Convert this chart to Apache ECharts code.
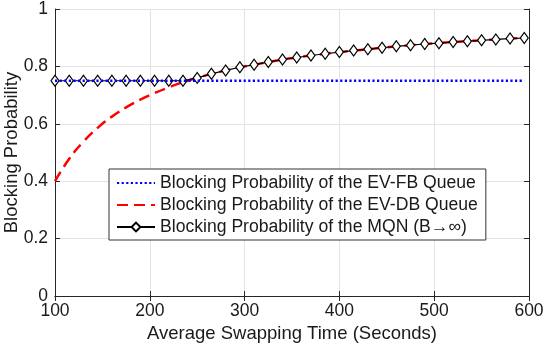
<!DOCTYPE html>
<html>
<head>
<meta charset="utf-8">
<title>Blocking Probability vs Average Swapping Time</title>
<script src="https://cdn.jsdelivr.net/npm/echarts@6/dist/echarts.min.js"></script>
<style>
  html, body { margin: 0; padding: 0; background: #fff; }
  #chart { width: 545px; height: 343px; }
</style>
</head>
<body>
<div id="chart"></div>
<script>
// --- Data ---
const swapTimes = [100, 115, 130, 145, 160, 175, 190, 205, 220, 235,
                   250, 265, 280, 295, 310, 325, 340, 355, 370, 385,
                   400, 415, 430, 445, 460, 475, 490, 505, 520, 535,
                   550, 565, 580, 595];

const fbQueue = [0.75, 0.75, 0.75, 0.75, 0.75, 0.75, 0.75, 0.75, 0.75, 0.75,
                 0.75, 0.75, 0.75, 0.75, 0.75, 0.75, 0.75, 0.75, 0.75, 0.75,
                 0.75, 0.75, 0.75, 0.75, 0.75, 0.75, 0.75, 0.75, 0.75, 0.75,
                 0.75, 0.75, 0.75, 0.75];

const dbQueue = [0.400, 0.478, 0.538, 0.586, 0.625, 0.657, 0.684, 0.707, 0.727, 0.745,
                 0.760, 0.774, 0.786, 0.797, 0.806, 0.815, 0.824, 0.831, 0.838, 0.844,
                 0.850, 0.855, 0.860, 0.865, 0.870, 0.874, 0.878, 0.881, 0.885, 0.888,
                 0.891, 0.894, 0.897, 0.899];

const mqn = [0.750, 0.750, 0.750, 0.750, 0.750, 0.750, 0.750, 0.750, 0.750, 0.750,
             0.760, 0.774, 0.786, 0.797, 0.806, 0.815, 0.824, 0.831, 0.838, 0.844,
             0.850, 0.855, 0.860, 0.865, 0.870, 0.874, 0.878, 0.881, 0.885, 0.888,
             0.891, 0.894, 0.897, 0.899];

const seriesNames = [
  'Blocking Probability of the EV-FB Queue',
  'Blocking Probability of the EV-DB Queue',
  'Blocking Probability of the MQN (B\u2192\u221E)'
];

const FONT = '"Liberation Sans", Arial, Helvetica, sans-serif';
const AXIS_COLOR = '#262626';
const GRID_COLOR = '#e3e3e3';
const TEXT_COLOR = '#1a1a1a';

const pairs = (ys) => swapTimes.map((x, i) => [x, ys[i]]);

const chart = echarts.init(document.getElementById('chart'), null, { renderer: 'canvas' });

// box-style axes (MATLAB look): ticks inside on all four sides
const sideAxis = {
  axisLine: { show: true, lineStyle: { color: AXIS_COLOR, width: 1 } },
  axisTick: { show: true, inside: true, length: 5, lineStyle: { color: AXIS_COLOR } },
  axisLabel: { show: false },
  splitLine: { show: false }
};

// legend entries without a marker for the two plain lines
const noMarker = { color: 'rgba(0,0,0,0)', borderColor: 'rgba(0,0,0,0)', borderWidth: 0, opacity: 0 };

chart.setOption({
  animation: false,
  backgroundColor: '#fff',
  textStyle: { fontFamily: FONT },
  grid: {
    left: 55, right: 16, top: 9, bottom: 47,
    containLabel: false,
    outerBoundsMode: 'none'
  },
  xAxis: [{
    type: 'value',
    min: 100, max: 600, interval: 100,
    name: 'Average Swapping Time (Seconds)',
    nameLocation: 'middle',
    nameGap: 23,
    nameTextStyle: { fontSize: 18.5, color: TEXT_COLOR, fontFamily: FONT },
    axisLine: { show: true, lineStyle: { color: AXIS_COLOR, width: 1 } },
    axisTick: { show: true, inside: true, length: 5, lineStyle: { color: AXIS_COLOR } },
    axisLabel: { fontSize: 17.5, color: TEXT_COLOR, margin: 6, fontFamily: FONT },
    splitLine: { show: true, lineStyle: { color: GRID_COLOR, width: 1 } }
  }, Object.assign({
    type: 'value', position: 'top', min: 100, max: 600, interval: 100
  }, sideAxis)],
  yAxis: [{
    type: 'value',
    min: 0, max: 1, interval: 0.2,
    name: 'Blocking Probability',
    nameLocation: 'middle',
    nameGap: 34,
    nameMoveOverlap: false,
    nameTextStyle: { fontSize: 18.5, color: TEXT_COLOR, fontFamily: FONT },
    axisLine: { show: true, lineStyle: { color: AXIS_COLOR, width: 1 } },
    axisTick: { show: true, inside: true, length: 5, lineStyle: { color: AXIS_COLOR } },
    axisLabel: { fontSize: 17.5, color: TEXT_COLOR, margin: 7, fontFamily: FONT },
    splitLine: { show: true, lineStyle: { color: GRID_COLOR, width: 1 } }
  }, Object.assign({
    type: 'value', position: 'right', min: 0, max: 1, interval: 0.2
  }, sideAxis)],
  legend: {
    orient: 'vertical',
    left: 109, top: 169,
    padding: [5, 8, 4, 7],
    itemWidth: 38, itemHeight: 11, itemGap: 4,
    backgroundColor: '#fff',
    borderColor: '#333',
    borderWidth: 1,
    borderRadius: 0,
    textStyle: { fontSize: 17.6, color: TEXT_COLOR, fontFamily: FONT },
    data: [
      { name: seriesNames[0], itemStyle: noMarker },
      { name: seriesNames[1], itemStyle: noMarker },
      { name: seriesNames[2] }
    ]
  },
  series: [
    {
      name: seriesNames[0],
      type: 'line',
      data: pairs(fbQueue),
      symbol: 'none',
      z: 4,
      lineStyle: { color: '#0000ff', width: 2.5, type: [2.2, 2.4] },
      itemStyle: { color: '#0000ff' }
    },
    {
      name: seriesNames[1],
      type: 'line',
      data: pairs(dbQueue),
      symbol: 'none',
      smooth: true,
      z: 2,
      lineStyle: { color: '#ff0000', width: 2.5, type: [11, 6] },
      itemStyle: { color: '#ff0000' }
    },
    {
      name: seriesNames[2],
      type: 'line',
      data: pairs(mqn),
      symbol: 'diamond',
      symbolSize: [8, 11],
      showAllSymbol: true,
      z: 3,
      lineStyle: { color: '#000', width: 1.2 },
      itemStyle: { color: '#fff', borderColor: '#000', borderWidth: 1.2 }
    }
  ]
});
</script>
</body>
</html>
